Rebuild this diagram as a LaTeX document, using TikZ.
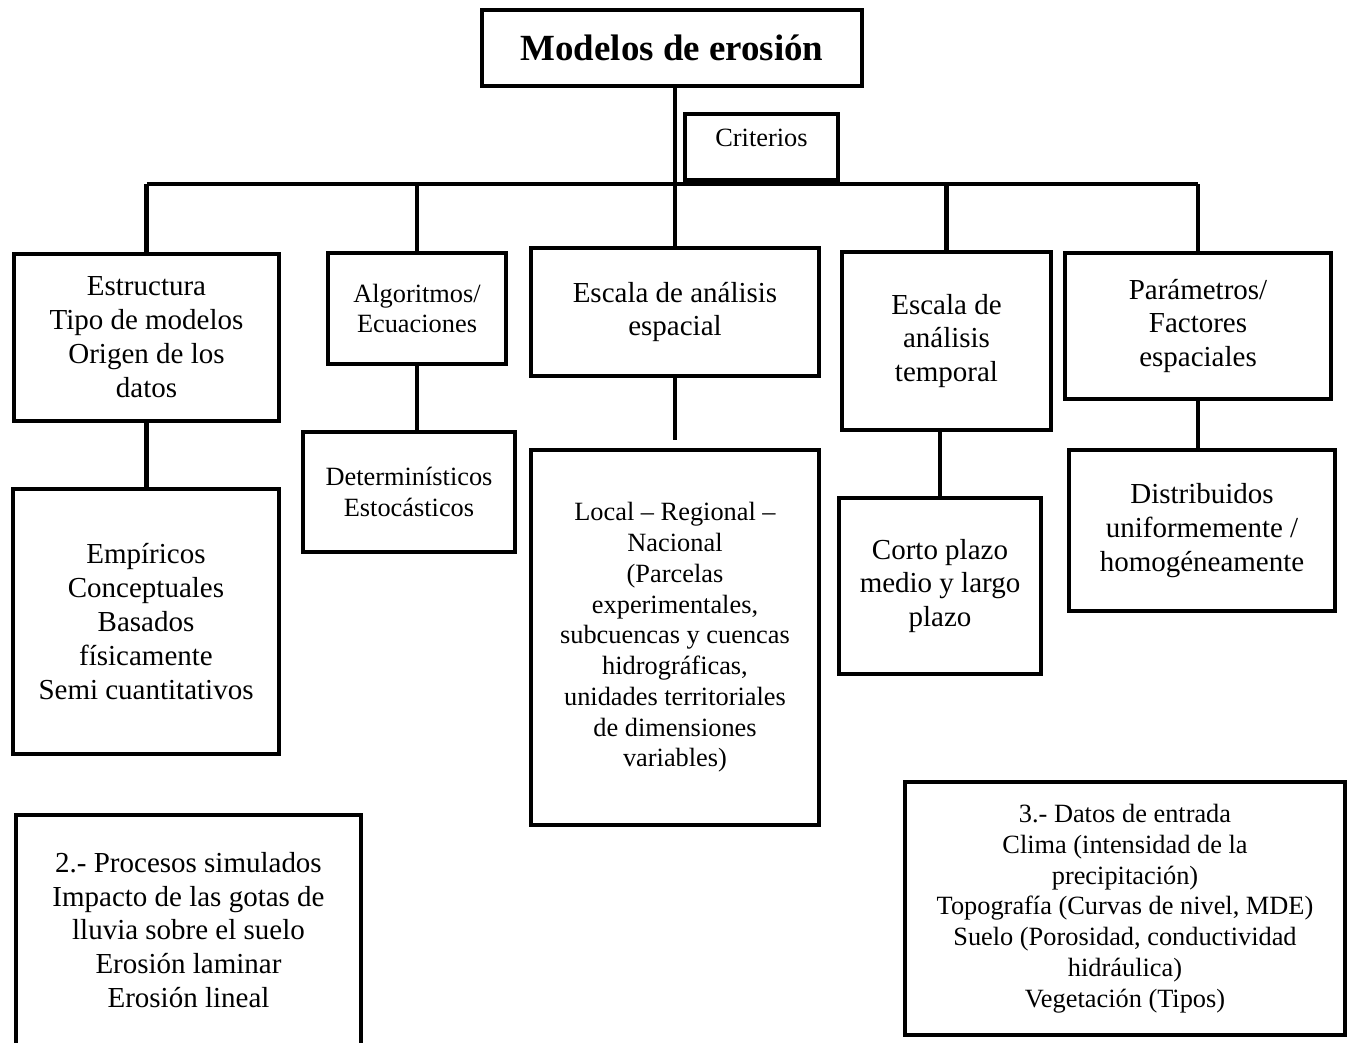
\documentclass[tikz,border=0pt]{standalone}
\usepackage{fontspec}
\setmainfont{Liberation Serif}
\tikzset{
  caja/.style={draw, line width=2.7pt, align=center, inner sep=1pt},
  linea/.style={line width=2.7pt},
  letraG/.style={font=\fontsize{16.5}{19.3}\selectfont},
  letraP/.style={font=\fontsize{15}{17.5}\selectfont},
}
\begin{document}
\begin{tikzpicture}[x=0.02cm,y=-0.02cm]
\useasboundingbox (0,0) rectangle (1356,1043);
\clip (0,0) rectangle (1356,1043);

%% title and criteria
\node [caja, minimum width=7.6cm, minimum height=1.52cm, font=\fontsize{21}{25}\selectfont\bfseries] (titulo) at (672,48) {Modelos de erosión};
\node [caja, letraP, text depth=11pt, minimum width=3.06cm, minimum height=1.32cm] (crit) at (761.5,147) {Criterios};

%% first row
\node [caja, letraG, minimum width=5.3cm, minimum height=3.34cm] (est) at (146.5,337.5) {Estructura\\Tipo de modelos\\Origen de los\\datos};
\node [caja, letraP, minimum width=3.56cm, minimum height=2.22cm] (alg) at (417,308.5) {Algoritmos/\\Ecuaciones};
\node [caja, letraG, minimum width=5.76cm, minimum height=2.56cm] (esp) at (675,312) {Escala de análisis\\espacial};
\node [caja, letraG, minimum width=4.18cm, minimum height=3.56cm] (tem) at (946.5,341) {Escala de\\análisis\\temporal};
\node [caja, letraG, minimum width=5.32cm, minimum height=2.92cm] (par) at (1198,326) {Parámetros/\\Factores\\espaciales};

%% second row
\node [caja, letraG, minimum width=5.32cm, minimum height=5.3cm] (emp) at (146,621.5) {Empíricos\\Conceptuales\\Basados\\físicamente\\Semi cuantitativos};
\node [caja, letraP, minimum width=4.24cm, minimum height=2.4cm] (det) at (409,492) {Determinísticos\\Estocásticos};
\node [caja, letraP, minimum width=5.76cm, minimum height=7.5cm] (loc) at (675,637.5) {Local – Regional –\\Nacional\\(Parcelas\\experimentales,\\subcuencas y cuencas\\hidrográficas,\\unidades territoriales\\de dimensiones\\variables)};
\node [caja, letraG, minimum width=4.04cm, minimum height=3.52cm] (cor) at (940,586) {Corto plazo\\medio y largo\\plazo};
\node [caja, letraG, minimum width=5.32cm, minimum height=3.22cm] (dis) at (1202,530.5) {Distribuidos\\uniformemente /\\homogéneamente};

%% bottom boxes
\node [caja, letraG, minimum width=6.9cm, minimum height=4.6cm] (pro) at (188.5,930) {2.- Procesos simulados\\Impacto de las gotas de\\lluvia sobre el suelo\\Erosión laminar\\Erosión lineal};
\node [caja, letraP, minimum width=8.8cm, minimum height=5.06cm] (dat) at (1125,908.5) {3.- Datos de entrada\\Clima (intensidad de la\\precipitación)\\Topografía (Curvas de nivel, MDE)\\Suelo (Porosidad, conductividad\\hidráulica)\\Vegetación (Tipos)};

%% the bus line
\coordinate (bus) at (0,184);
\draw [linea] (esp.north |- titulo.south) -- (esp.north);
\draw [linea] (est.north |- bus) -- (par.north |- bus);
\foreach \n in {est,alg,tem,par}
  \draw [linea] (\n.north) -- (\n.north |- bus);

%% links down to second row
\coordinate (hueco) at (675,440);
\draw [linea] (est.south) -- (est.south |- emp.north);
\draw [linea] (alg.south) -- (alg.south |- det.north);
\draw [linea] (esp.south) -- (hueco);
\draw [linea] (cor.north |- tem.south) -- (cor.north);
\draw [linea] (par.south) -- (par.south |- dis.north);

\end{tikzpicture}
\end{document}
